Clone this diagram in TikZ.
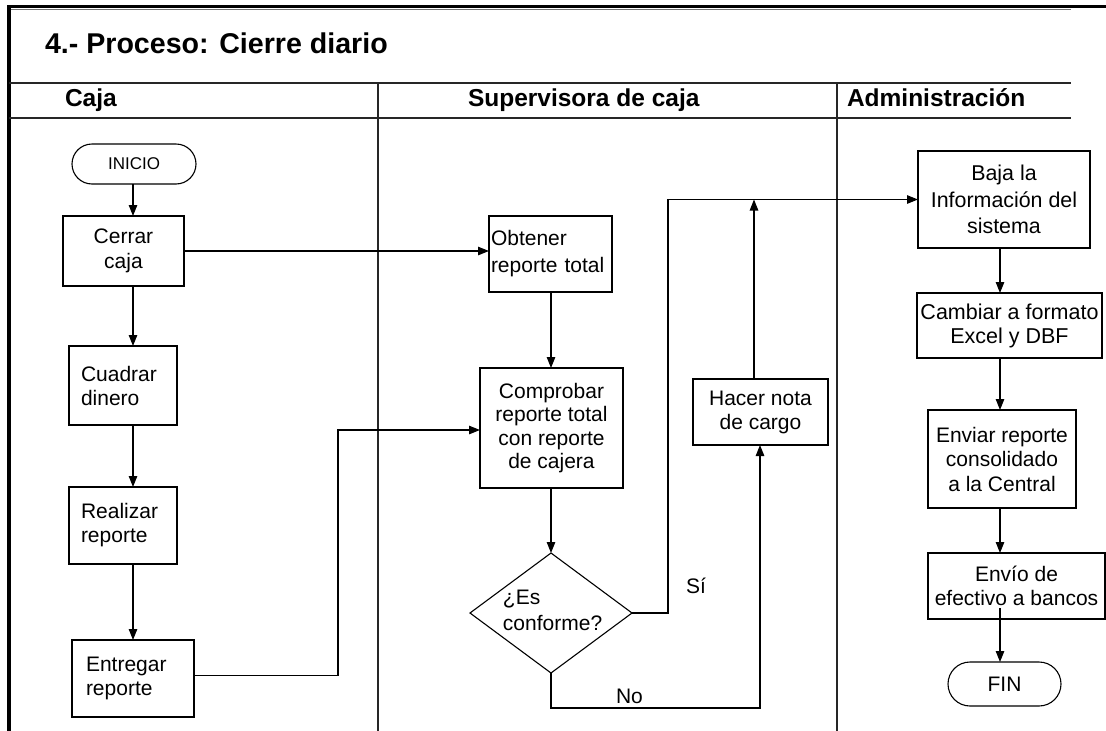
\documentclass[tikz,border=0pt]{standalone}
\usepackage{fontspec}
\setmainfont{Liberation Sans}
\usetikzlibrary{arrows.meta,shapes.geometric}

\newcommand\fsz[2]{\fontsize{#1}{#2}\selectfont}

\begin{document}
\begin{tikzpicture}[x=1pt,y=-1pt,
  every node/.style={inner sep=0pt, outer sep=0pt},
  box/.style={draw, line width=1.1pt, rectangle, align=center, font=\fsz{21}{24}},
  leftbox/.style={box, align=left},
  term/.style={draw, line width=1.1pt, rectangle},
  decision/.style={draw, line width=1.1pt, diamond},
  flow/.style={line width=1.1pt, -{Triangle[length=11pt,width=8.5pt]}},
  lane/.style={line width=1.4pt, draw=black!85},
  frame/.style={line width=3.5pt, draw=black},
  head/.style={font=\bfseries\fsz{24.5}{28}, anchor=base west},
  lbl/.style={font=\fsz{21}{24}, anchor=base west},
]
\useasboundingbox (0,0) rectangle (1106,731);

% outer frame and swimlane grid
\draw[frame] (9,731) -- (9,6.5) -- (1106,6.5);
\draw[line width=1.2pt, draw=black!55] (11,9.8) -- (1071,9.8);
\draw[lane] (9,83) -- (1071,83);
\draw[lane] (9,118) -- (1071,118);
\draw[lane] (378,83) -- (378,731);
\draw[lane] (837,83) -- (837,731);

% title and lane headings
\node[font=\bfseries\fsz{28.6}{32}, anchor=base west] (title) at (45,53) {4.- Proceso: Cierre diario};
\node[head] (hcaja) at (65,106) {Caja};
\node[head] (hsup) at (468,106) {Supervisora de caja};
\node[head] (hadm) at (847,106) {Administración};

% Caja lane
\node[term, rounded corners=20pt, minimum width=124pt, minimum height=40pt, font=\fsz{17}{20}] (inicio) at (134,164) {INICIO};
\node[box, minimum width=121pt, minimum height=70pt, font=\fsz{21}{25}] (cerrar) at (123.5,251) {Cerrar\\caja};
\node[leftbox, minimum width=108pt, minimum height=79pt, text width=84pt] (cuadrar) at (123,385.5) {Cuadrar\\dinero};
\node[leftbox, minimum width=108pt, minimum height=77pt, text width=84pt] (realizar) at (123,525.5) {Realizar\\reporte};
\node[leftbox, minimum width=122pt, minimum height=77pt, text width=94pt] (entregar) at (133,678.5) {Entregar\\reporte};

% Supervisora lane
\node[leftbox, minimum width=123pt, minimum height=76pt, text width=119pt, font=\fsz{21}{27}] (obtener) at (550.5,254) {Obtener\\reporte total};
\node[box, minimum width=143pt, minimum height=120pt, font=\fsz{21}{23.3}] (comprobar) at (551.5,428) {Comprobar\\reporte total\\con reporte\\de cajera};
\node[decision, minimum width=162pt, minimum height=120pt] (dec) at (551,613) {};
\node[font=\fsz{21}{26}, align=left] (dectxt) at (552.6,610.5) {¿Es\\conforme?};
\node[box, minimum width=135pt, minimum height=66pt] (hacer) at (760.5,412) {Hacer nota\\de cargo};
\node[lbl] (si) at (686,593) {Sí};
\node[lbl] (no) at (616,703) {No};

% Administracion lane
\node[box, minimum width=172pt, minimum height=97pt, font=\fsz{21.4}{26.5}] (baja) at (1004,199.5) {Baja la\\Información del\\sistema};
\node[box, minimum width=185pt, minimum height=65pt, font=\fsz{21.5}{24}] (cambiar) at (1009.5,325.5) {Cambiar a formato\\Excel y DBF};
\node[box, minimum width=148pt, minimum height=98pt, font=\fsz{21}{24.5}] (enviar) at (1002,459) {Enviar reporte\\consolidado\\a la Central};
\node[box, minimum width=177pt, minimum height=66pt, font=\fsz{21}{24.5}] (envio) at (1016.5,586) {Envío de\\efectivo a bancos};
\node[term, rounded corners=22pt, minimum width=113pt, minimum height=44pt, font=\fsz{21}{24}] (fin) at (1004.5,684) {FIN};

% connector columns and bends
\coordinate (colA) at (133,0);
\coordinate (colB) at (551,0);
\coordinate (colC) at (1000,0);
\coordinate (j1) at (338,430);
\coordinate (s1) at (668,199.5);
\coordinate (s2) at (754,199.5);
\coordinate (n1) at (760,708);

% Caja flow
\draw[flow] (colA |- inicio.south) -- (colA |- cerrar.north);
\draw[flow] (colA |- cerrar.south) -- (colA |- cuadrar.north);
\draw[flow] (colA |- cuadrar.south) -- (colA |- realizar.north);
\draw[flow] (colA |- realizar.south) -- (colA |- entregar.north);
\draw[flow] (cerrar.east) -- (cerrar.east -| obtener.west);
\draw[flow] ([yshift=3pt]entregar.east) -| (j1) -- (j1 -| comprobar.west);

% Supervisora flow
\draw[flow] (colB |- obtener.south) -- (colB |- comprobar.north);
\draw[flow] (colB |- comprobar.south) -- (dec.north);
\draw[flow] (dec.east) -| (s1) -- (s1 -| baja.west);
\draw[flow] (s2 |- hacer.north) -- (s2);
\draw[flow] (dec.south) |- (n1) -- (n1 |- hacer.south);

% Administracion flow
\draw[flow] (colC |- baja.south) -- (colC |- cambiar.north);
\draw[flow] (colC |- cambiar.south) -- (colC |- enviar.north);
\draw[flow] (colC |- enviar.south) -- (colC |- envio.north);
\draw[flow] ([yshift=11pt]colC |- envio.south) -- (colC |- fin.north);
\end{tikzpicture}
\end{document}
